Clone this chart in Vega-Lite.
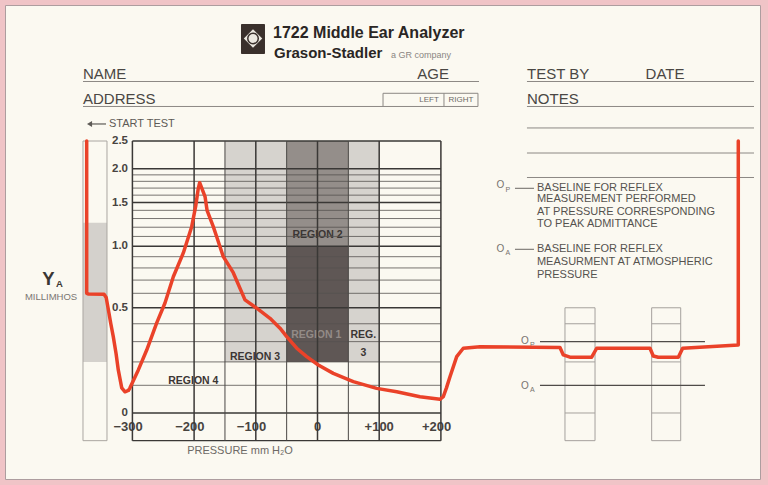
{
  "$schema": "https://vega.github.io/schema/vega-lite/v6.json",
  "width": 755,
  "height": 474,
  "autosize": {"type": "none"},
  "padding": {"left": 5, "top": 5, "right": 8, "bottom": 6},
  "background": "#f0c4c7",
  "config": {
    "view": {"fill": "#fbf9f1", "stroke": "#ad9d9f", "strokeWidth": 1},
    "font": "Liberation Sans"
  },
  "encoding": {
    "x": {"field": "p", "type": "quantitative", "axis": null,
      "scale": {"domain": [-506.5, 717.2], "nice": false, "zero": false}},
    "y": {"field": "v", "type": "quantitative", "axis": null,
      "scale": {"type": "symlog", "constant": 0.5, "domain": [-0.2724, 6.849], "nice": false, "zero": false}}
  },
  "layer": [
    {
      "data": {"values": [
        {"p": -150, "p2": -50, "v": 0.2, "v2": 2.5, "shade": "light"},
        {"p": 50, "p2": 100, "v": 0.2, "v2": 2.5, "shade": "light"},
        {"p": -50, "p2": 50, "v": 1.0, "v2": 2.5, "shade": "medium"},
        {"p": -50, "p2": 50, "v": 0.2, "v2": 1.0, "shade": "dark"}
      ]},
      "mark": {"type": "rect"},
      "encoding": {
        "x2": {"field": "p2"}, "y2": {"field": "v2"},
        "color": {"field": "shade", "type": "nominal", "legend": null,
          "scale": {"domain": ["light", "medium", "dark"], "range": ["#d6d3ce", "#948e8a", "#5f5755"]}}
      }
    },
    {
      "data": {"values": [{"p": -380.1, "p2": -341.2, "v": 0.2, "v2": 1.25}]},
      "mark": {"type": "rect", "color": "#d4d1cc"},
      "encoding": {"x2": {"field": "p2"}, "y2": {"field": "v2"}}
    },
    {
      "data": {"values": [{"p": -380.1, "p2": -341.2, "v": -0.1, "v2": 2.5}]},
      "mark": {"type": "rect", "filled": false, "color": "#aaa6a1", "strokeWidth": 1},
      "encoding": {"x2": {"field": "p2"}, "y2": {"field": "v2"}}
    },
    {
      "data": {"values": [
        {"p": 0, "v": 1.12, "t": "REGION 2"},
        {"p": 74.3, "v": 0.336, "t": "REG."},
        {"p": 74.3, "v": 0.242, "t": "3"},
        {"p": -101.3, "v": 0.223, "t": "REGION 3"},
        {"p": -201.3, "v": 0.117, "t": "REGION 4"}
      ]},
      "mark": {"type": "text", "align": "center", "baseline": "middle", "fontSize": 10.5, "fontWeight": "bold", "color": "#3b3634"},
      "encoding": {"text": {"field": "t"}}
    },
    {
      "data": {"values": [{"p": -2, "v": 0.336, "t": "REGION 1"}]},
      "mark": {"type": "text", "align": "center", "baseline": "middle", "fontSize": 10.5, "fontWeight": "bold", "color": "#938b87"},
      "encoding": {"text": {"field": "t"}}
    },
    {
      "data": {"values": [
        {"p": -307, "v": -0.047, "t": "−300"},
        {"p": -207, "v": -0.047, "t": "−200"},
        {"p": -107, "v": -0.047, "t": "−100"},
        {"p": 0, "v": -0.047, "t": "0"},
        {"p": 100, "v": -0.047, "t": "+100"},
        {"p": 193, "v": -0.047, "t": "+200"}
      ]},
      "mark": {"type": "text", "align": "center", "baseline": "middle", "fontSize": 13, "fontWeight": "bold", "color": "#47433f"},
      "encoding": {"text": {"field": "t"}}
    },
    {
      "data": {"values": [
        {"p": -307.1, "v": 0, "t": "0"},
        {"p": -307.1, "v": 0.5, "t": "0.5"},
        {"p": -307.1, "v": 1.0, "t": "1.0"},
        {"p": -307.1, "v": 1.5, "t": "1.5"},
        {"p": -307.1, "v": 2.0, "t": "2.0"},
        {"p": -307.1, "v": 2.5, "t": "2.5"}
      ]},
      "mark": {"type": "text", "align": "right", "baseline": "middle", "fontSize": 11.5, "fontWeight": "bold", "color": "#47433f"},
      "encoding": {"text": {"field": "t"}}
    },
    {
      "data": {"values": [
        {"p": -300, "p2": 200, "v": 0.1}, {"p": -300, "p2": 200, "v": 0.2}, {"p": -300, "p2": 200, "v": 0.3}, {"p": -300, "p2": 200, "v": 0.4},
        {"p": -300, "p2": 200, "v": 0.6}, {"p": -300, "p2": 200, "v": 0.7}, {"p": -300, "p2": 200, "v": 0.8}, {"p": -300, "p2": 200, "v": 0.9},
        {"p": -300, "p2": 200, "v": 1.1}, {"p": -300, "p2": 200, "v": 1.2}, {"p": -300, "p2": 200, "v": 1.3}, {"p": -300, "p2": 200, "v": 1.4},
        {"p": -300, "p2": 200, "v": 1.6}, {"p": -300, "p2": 200, "v": 1.7}, {"p": -300, "p2": 200, "v": 1.8}, {"p": -300, "p2": 200, "v": 1.9}
      ]},
      "mark": {"type": "rule", "color": "#55524f", "strokeWidth": 0.8},
      "encoding": {"x2": {"field": "p2"}}
    },
    {
      "data": {"values": [
        {"p": -300, "p2": 200, "v": -0.1}, {"p": -300, "p2": 200, "v": 0}, {"p": -300, "p2": 200, "v": 0.5},
        {"p": -300, "p2": 200, "v": 1.0}, {"p": -300, "p2": 200, "v": 1.5}, {"p": -300, "p2": 200, "v": 2.0},
        {"p": -300, "p2": 200, "v": 2.5}
      ]},
      "mark": {"type": "rule", "color": "#3a3836", "strokeWidth": 1.4},
      "encoding": {"x2": {"field": "p2"}}
    },
    {
      "data": {"values": [
        {"p": -150, "v": -0.1, "v2": 2.5}, {"p": -50, "v": -0.1, "v2": 2.5}, {"p": 50, "v": -0.1, "v2": 2.5}
      ]},
      "mark": {"type": "rule", "color": "#4a4745", "strokeWidth": 1},
      "encoding": {"y2": {"field": "v2"}}
    },
    {
      "data": {"values": [
        {"p": -300, "v": -0.1, "v2": 2.5}, {"p": -200, "v": -0.1, "v2": 2.5}, {"p": -100, "v": -0.1, "v2": 2.5},
        {"p": 0, "v": -0.1, "v2": 2.5}, {"p": 100, "v": -0.1, "v2": 2.5}, {"p": 200, "v": -0.1, "v2": 2.5}
      ]},
      "mark": {"type": "rule", "color": "#3a3836", "strokeWidth": 1.5},
      "encoding": {"y2": {"field": "v2"}}
    },
    {
      "data": {"values": [
        {"p": 401.1, "p2": 449.8, "v": -0.1, "v2": 0.5},
        {"p": 541.6, "p2": 588.7, "v": -0.1, "v2": 0.5}
      ]},
      "mark": {"type": "rect", "filled": false, "color": "#a5a19d", "strokeWidth": 1},
      "encoding": {"x2": {"field": "p2"}, "y2": {"field": "v2"}}
    },
    {
      "data": {"values": [
        {"p": 401.1, "p2": 449.8, "v": 0.4}, {"p": 401.1, "p2": 449.8, "v": 0.2}, {"p": 401.1, "p2": 449.8, "v": 0.0},
        {"p": 541.6, "p2": 588.7, "v": 0.4}, {"p": 541.6, "p2": 588.7, "v": 0.2}, {"p": 541.6, "p2": 588.7, "v": 0.0}
      ]},
      "mark": {"type": "rule", "color": "#a5a19d", "strokeWidth": 1},
      "encoding": {"x2": {"field": "p2"}}
    },
    {
      "data": {"values": [
        {"p": 360.6, "p2": 628.0, "v": 0.3},
        {"p": 360.6, "p2": 628.0, "v": 0.1}
      ]},
      "mark": {"type": "rule", "color": "#4f4c49", "strokeWidth": 1.2},
      "encoding": {"x2": {"field": "p2"}}
    },
    {
      "data": {"values": [
        {"p": -380.1, "p2": 261.8, "v": 3.94},
        {"p": -380.1, "p2": 106.2, "v": 3.266},
        {"p": 339.5, "p2": 707.5, "v": 3.94},
        {"p": 339.5, "p2": 707.5, "v": 3.266},
        {"p": 339.5, "p2": 707.5, "v": 2.769},
        {"p": 339.5, "p2": 707.5, "v": 2.272},
        {"p": 339.5, "p2": 707.5, "v": 1.859}
      ]},
      "mark": {"type": "rule", "color": "#8c8884", "strokeWidth": 1},
      "encoding": {"x2": {"field": "p2"}}
    },
    {
      "data": {"values": [{"p": 106.2, "p2": 260.1, "v": 3.266, "v2": 3.608}]},
      "mark": {"type": "rect", "filled": false, "color": "#8c8884", "strokeWidth": 1},
      "encoding": {"x2": {"field": "p2"}, "y2": {"field": "v2"}}
    },
    {
      "data": {"values": [{"p": 205.0, "v": 3.266, "v2": 3.608}]},
      "mark": {"type": "rule", "color": "#8c8884", "strokeWidth": 1},
      "encoding": {"y2": {"field": "v2"}}
    },
    {
      "data": {"values": [{"p": -124.0, "p2": -85.1, "v": 4.822, "v2": 5.985}]},
      "mark": {"type": "rect", "color": "#3a302c", "cornerRadius": 1},
      "encoding": {"x2": {"field": "p2"}, "y2": {"field": "v2"}}
    },
    {
      "data": {"values": [{"p": -104.5, "v": 5.394}]},
      "mark": {"type": "point", "shape": "diamond", "filled": true, "color": "#ece8e0", "size": 340, "opacity": 1},
      "encoding": {}
    },
    {
      "data": {"values": [{"p": -104.5, "v": 5.394}]},
      "mark": {"type": "point", "shape": "circle", "filled": true, "fill": "#ece8e0", "stroke": "#3a302c", "strokeWidth": 1.5, "size": 110, "opacity": 1},
      "encoding": {}
    },
    {
      "data": {"values": [{"p": -72.1, "v": 5.612, "t": "1722 Middle Ear Analyzer"}]},
      "mark": {"type": "text", "align": "left", "baseline": "middle", "fontSize": 16, "fontWeight": "bold", "color": "#2a2624"},
      "encoding": {"text": {"field": "t"}}
    },
    {
      "data": {"values": [{"p": -70.5, "v": 4.857, "t": "Grason-Stadler"}]},
      "mark": {"type": "text", "align": "left", "baseline": "middle", "fontSize": 15, "fontWeight": "bold", "color": "#2a2624"},
      "encoding": {"text": {"field": "t"}}
    },
    {
      "data": {"values": [{"p": 119.1, "v": 4.804, "t": "a GR company"}]},
      "mark": {"type": "text", "align": "left", "baseline": "middle", "fontSize": 9, "color": "#8a8682"},
      "encoding": {"text": {"field": "t"}}
    },
    {
      "data": {"values": [
        {"p": -380.1, "v": 4.0, "t": "NAME"},
        {"p": 161.8, "v": 4.0, "t": "AGE"},
        {"p": 339.5, "v": 4.0, "t": "TEST BY"},
        {"p": 531.8, "v": 4.0, "t": "DATE"},
        {"p": -380.1, "v": 3.329, "t": "ADDRESS"},
        {"p": 339.5, "v": 3.329, "t": "NOTES"}
      ]},
      "mark": {"type": "text", "align": "left", "baseline": "alphabetic", "fontSize": 15, "color": "#4a4744"},
      "encoding": {"text": {"field": "t"}}
    },
    {
      "data": {"values": [
        {"p": 180.7, "v": 3.438, "t": "LEFT"},
        {"p": 232.6, "v": 3.438, "t": "RIGHT"}
      ]},
      "mark": {"type": "text", "align": "center", "baseline": "middle", "fontSize": 8, "color": "#6d6a66"},
      "encoding": {"text": {"field": "t"}}
    },
    {
      "data": {"values": [{"p": -337.9, "v": 2.856, "t": "START TEST"}]},
      "mark": {"type": "text", "align": "left", "baseline": "middle", "fontSize": 11, "color": "#5d5a56"},
      "encoding": {"text": {"field": "t"}}
    },
    {
      "data": {"values": [{"p": -370, "p2": -342.8, "v": 2.856}]},
      "mark": {"type": "rule", "color": "#5d5a56", "strokeWidth": 1.2},
      "encoding": {"x2": {"field": "p2"}}
    },
    {
      "data": {"values": [{"p": -369.5, "v": 2.856}]},
      "mark": {"type": "point", "shape": "triangle-left", "filled": true, "color": "#5d5a56", "size": 35, "opacity": 1},
      "encoding": {}
    },
    {
      "data": {"values": [
        {"p": 355.7, "v": 1.697, "t": "BASELINE FOR REFLEX"},
        {"p": 355.7, "v": 1.541, "t": "MEASUREMENT PERFORMED"},
        {"p": 355.7, "v": 1.383, "t": "AT PRESSURE CORRESPONDING"},
        {"p": 355.7, "v": 1.237, "t": "TO PEAK ADMITTANCE"},
        {"p": 355.7, "v": 0.970, "t": "BASELINE FOR REFLEX"},
        {"p": 355.7, "v": 0.848, "t": "MEASURMENT AT ATMOSPHERIC"},
        {"p": 355.7, "v": 0.741, "t": "PRESSURE"}
      ]},
      "mark": {"type": "text", "align": "left", "baseline": "middle", "fontSize": 11, "color": "#55524e"},
      "encoding": {"text": {"field": "t"}}
    },
    {
      "data": {"values": [
        {"p": 290.3, "v": 1.745, "t": "O"},
        {"p": 290.3, "v": 0.973, "t": "O"},
        {"p": 329.8, "v": 0.303, "t": "O"},
        {"p": 329.8, "v": 0.097, "t": "O"}
      ]},
      "mark": {"type": "text", "align": "left", "baseline": "middle", "fontSize": 10, "color": "#77736f"},
      "encoding": {"text": {"field": "t"}}
    },
    {
      "data": {"values": [
        {"p": 304.7, "v": 1.673, "t": "P"},
        {"p": 304.7, "v": 0.935, "t": "A"},
        {"p": 344.6, "v": 0.283, "t": "P"},
        {"p": 344.6, "v": 0.082, "t": "A"}
      ]},
      "mark": {"type": "text", "align": "left", "baseline": "middle", "fontSize": 7, "color": "#77736f"},
      "encoding": {"text": {"field": "t"}}
    },
    {
      "data": {"values": [
        {"p": 320.1, "p2": 350.9, "v": 1.697},
        {"p": 320.1, "p2": 350.9, "v": 0.970}
      ]},
      "mark": {"type": "rule", "color": "#6a6763", "strokeWidth": 1},
      "encoding": {"x2": {"field": "p2"}}
    },
    {
      "data": {"values": [{"p": -436.3, "v": 0.662, "t": "Y"}]},
      "mark": {"type": "text", "align": "center", "baseline": "alphabetic", "fontSize": 18.5, "fontWeight": "bold", "color": "#3a3634"},
      "encoding": {"text": {"field": "t"}}
    },
    {
      "data": {"values": [{"p": -423.8, "v": 0.647, "t": "A"}]},
      "mark": {"type": "text", "align": "left", "baseline": "alphabetic", "fontSize": 9.5, "fontWeight": "bold", "color": "#3a3634"},
      "encoding": {"text": {"field": "t"}}
    },
    {
      "data": {"values": [{"p": -431.9, "v": 0.574, "t": "MILLIMHOS"}]},
      "mark": {"type": "text", "align": "center", "baseline": "middle", "fontSize": 9.5, "color": "#7a7672"},
      "encoding": {"text": {"field": "t"}}
    },
    {
      "data": {"values": [{"p": -125.6, "v": -0.142, "t": "PRESSURE mm H₂O"}]},
      "mark": {"type": "text", "align": "center", "baseline": "middle", "fontSize": 11, "color": "#6e6a66"},
      "encoding": {"text": {"field": "t"}}
    },
    {
      "data": {"values": [
        {"i": 0, "p": -374.1, "v": 2.5},
        {"i": 1, "p": -374.1, "v": 0.6},
        {"i": 2, "p": -371, "v": 0.595},
        {"i": 3, "p": -346, "v": 0.593},
        {"i": 4, "p": -342.5, "v": 0.57},
        {"i": 5, "p": -339.1, "v": 0.49},
        {"i": 6, "p": -335, "v": 0.4},
        {"i": 7, "p": -331.0, "v": 0.327},
        {"i": 8, "p": -326.5, "v": 0.24},
        {"i": 9, "p": -322.9, "v": 0.164},
        {"i": 10, "p": -317.3, "v": 0.09},
        {"i": 11, "p": -312.0, "v": 0.075},
        {"i": 12, "p": -306.5, "v": 0.08},
        {"i": 13, "p": -303.9, "v": 0.09},
        {"i": 14, "p": -290.4, "v": 0.164},
        {"i": 15, "p": -276.8, "v": 0.257},
        {"i": 16, "p": -260.6, "v": 0.405},
        {"i": 17, "p": -247.2, "v": 0.532},
        {"i": 18, "p": -233.7, "v": 0.727},
        {"i": 19, "p": -217.5, "v": 0.935},
        {"i": 20, "p": -203.9, "v": 1.206},
        {"i": 21, "p": -197.5, "v": 1.45},
        {"i": 22, "p": -193.5, "v": 1.68},
        {"i": 23, "p": -191.0, "v": 1.78},
        {"i": 24, "p": -188.5, "v": 1.72},
        {"i": 25, "p": -182.3, "v": 1.58},
        {"i": 26, "p": -179.0, "v": 1.4},
        {"i": 27, "p": -168.9, "v": 1.206},
        {"i": 28, "p": -163.4, "v": 1.097},
        {"i": 29, "p": -152.7, "v": 0.9},
        {"i": 30, "p": -136.5, "v": 0.76},
        {"i": 31, "p": -117.5, "v": 0.553},
        {"i": 32, "p": -98.5, "v": 0.497},
        {"i": 33, "p": -77.0, "v": 0.433},
        {"i": 34, "p": -60.8, "v": 0.374},
        {"i": 35, "p": -49.9, "v": 0.327},
        {"i": 36, "p": -33.7, "v": 0.266},
        {"i": 37, "p": -17.5, "v": 0.225},
        {"i": 38, "p": 1.3, "v": 0.186},
        {"i": 39, "p": 25.6, "v": 0.149},
        {"i": 40, "p": 58.0, "v": 0.115},
        {"i": 41, "p": 95.9, "v": 0.088},
        {"i": 42, "p": 128.4, "v": 0.0753},
        {"i": 43, "p": 166.1, "v": 0.0567},
        {"i": 44, "p": 198.5, "v": 0.0472},
        {"i": 45, "p": 203.9, "v": 0.0567},
        {"i": 46, "p": 209.0, "v": 0.09},
        {"i": 47, "p": 214.7, "v": 0.135},
        {"i": 48, "p": 225.6, "v": 0.225},
        {"i": 49, "p": 236.3, "v": 0.266},
        {"i": 50, "p": 263.4, "v": 0.274},
        {"i": 51, "p": 393.0, "v": 0.27},
        {"i": 52, "p": 398.4, "v": 0.233},
        {"i": 53, "p": 409.2, "v": 0.222},
        {"i": 54, "p": 444.4, "v": 0.222},
        {"i": 55, "p": 452.5, "v": 0.266},
        {"i": 56, "p": 538.9, "v": 0.266},
        {"i": 57, "p": 544.2, "v": 0.228},
        {"i": 58, "p": 552.4, "v": 0.222},
        {"i": 59, "p": 584.8, "v": 0.222},
        {"i": 60, "p": 591.9, "v": 0.266},
        {"i": 61, "p": 682.0, "v": 0.283},
        {"i": 62, "p": 682.0, "v": 2.5}
      ]},
      "mark": {"type": "line", "color": "#ea4229", "strokeWidth": 3.5, "strokeJoin": "round", "strokeCap": "round"},
      "encoding": {"order": {"field": "i", "type": "quantitative"}}
    }
  ]
}
